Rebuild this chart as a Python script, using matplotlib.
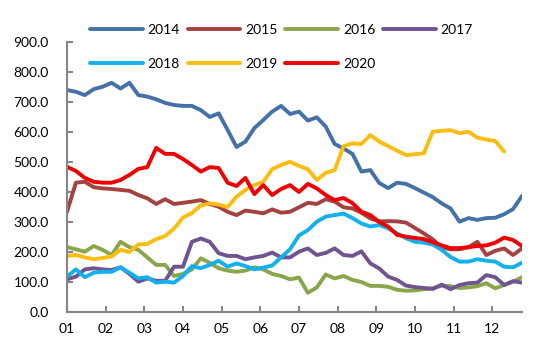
import numpy as np
import matplotlib
matplotlib.use('Agg')
import matplotlib.pyplot as plt

plt.rcParams['font.family'] = ['Lato', 'DejaVu Sans']

# weekly data, month ticks 01..12
months = ['01', '02', '03', '04', '05', '06', '07', '08', '09', '10', '11', '12']

y2014 = [740, 734, 723, 743, 751, 764, 745, 764, 723, 718,
         709, 697, 690, 687, 687, 673, 650, 662, 607, 550,
         568, 613, 640, 668, 687, 660, 668, 638, 649, 618,
         560, 545, 527, 468, 473, 430, 413, 431, 427, 413,
         398, 383, 362, 345, 301, 313, 307, 313, 314, 326,
         343, 387]
y2015 = [334, 431, 434, 416, 412, 410, 407, 404, 390, 379,
         360, 376, 360, 364, 368, 373, 360, 351, 334, 323,
         338, 334, 329, 342, 331, 334, 349, 364, 360, 376,
         368, 349, 345, 331, 312, 302, 303, 302, 298, 280,
         262, 242, 215, 209, 209, 216, 234, 190, 204, 212,
         190, 212]
y2016 = [216, 209, 201, 220, 207, 190, 234, 216, 207, 182,
         157, 157, 120, 127, 142, 179, 164, 146, 138, 134,
         138, 149, 142, 127, 120, 109, 115, 64, 82, 125,
         112, 120, 107, 100, 87, 87, 84, 74, 71, 72,
         76, 79, 88, 86, 80, 82, 86, 96, 79, 90,
         101, 116]
y2017 = [109, 118, 142, 146, 142, 140, 149, 127, 101, 112,
         104, 104, 151, 151, 234, 245, 234, 196, 187, 187,
         176, 182, 187, 198, 182, 182, 201, 212, 190, 197,
         212, 190, 187, 202, 162, 145, 118, 107, 88, 83,
         80, 77, 91, 76, 90, 96, 98, 123, 116, 90,
         103, 98]
y2018 = [118, 142, 116, 131, 134, 134, 149, 131, 112, 116,
         98, 101, 98, 120, 153, 146, 157, 171, 151, 162,
         153, 142, 148, 155, 182, 209, 255, 273, 301, 318,
         323, 328, 313, 295, 285, 290, 279, 262, 246, 234,
         231, 225, 207, 183, 168, 168, 176, 171, 168, 151,
         149, 164]
y2019 = [187, 190, 182, 176, 180, 185, 207, 200, 225, 227,
         243, 253, 278, 315, 330, 355, 362, 358, 350, 384,
         407, 423, 434, 476, 490, 501, 487, 476, 440, 464,
         473, 553, 562, 560, 590, 568, 553, 538, 523, 526,
         529, 601, 604, 606, 596, 601, 581, 575, 570, 535]
y2020 = [484, 470, 447, 434, 431, 431, 440, 457, 477, 483,
         547, 527, 527, 510, 490, 468, 483, 480, 431, 420,
         447, 393, 423, 390, 410, 423, 400, 427, 412, 390,
         373, 380, 363, 334, 323, 300, 285, 257, 251, 247,
         243, 233, 222, 213, 213, 216, 220, 222, 231, 248,
         240, 220]

series = [('2014', y2014, '#4472A8'),
          ('2015', y2015, '#A5423F'),
          ('2016', y2016, '#8AA64B'),
          ('2017', y2017, '#6F5491'),
          ('2018', y2018, '#12B0EC'),
          ('2019', y2019, '#FBBD12'),
          ('2020', y2020, '#F00000')]

fig = plt.figure(figsize=(5.44, 3.46), dpi=100)
ax = fig.add_axes([67/544, 34/346, 455/544, 270/346])

lines = {}
for name, vals, col in series:
    x = np.arange(len(vals)) * 12 / 52
    l, = ax.plot(x, vals, color=col, lw=2.8, label=name,
                 solid_joinstyle='round', solid_capstyle='round')
    lines[name] = l

ax.set_xlim(0, 51 * 12 / 52)
ax.set_ylim(0, 900)
ax.set_xticks(range(12))
ax.set_xticklabels(months)
ax.set_yticks(range(0, 901, 100))
ax.set_yticklabels(['%.1f' % v for v in range(0, 901, 100)])

for s in ['top', 'right']:
    ax.spines[s].set_visible(False)
for s in ['left', 'bottom']:
    ax.spines[s].set_color('#868686')
    ax.spines[s].set_linewidth(1.5)
ax.tick_params(axis='both', direction='in', length=4, width=1.5, color='#868686',
               labelsize=10, labelcolor='black')
ax.tick_params(axis='y', pad=13)
ax.tick_params(axis='x', pad=8)

# two rows: 2014-2017 on top, 2018-2020 below
order = ['2014', '2018', '2015', '2019', '2016', '2020', '2017']
ax.legend([lines[k] for k in order], order, ncol=4, frameon=False,
          loc='upper left', bbox_to_anchor=(90/544, 1 - 24/346),
          bbox_transform=fig.transFigure, fontsize=10,
          handlelength=3.8, handletextpad=0.35, columnspacing=0.55,
          labelspacing=1.6, borderpad=0, borderaxespad=0)

fig.savefig('out.png', dpi=100)
